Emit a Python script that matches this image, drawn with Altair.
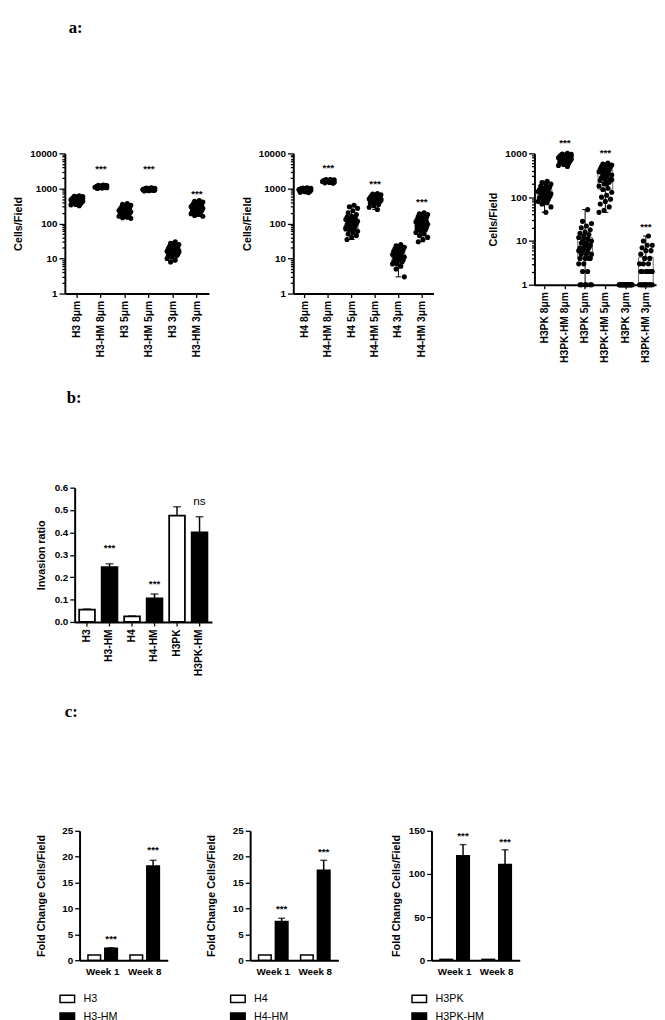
import altair as alt
import pandas as pd

FONT = "Liberation Sans"
SERIF = "Liberation Serif"

# ---------------- Panel a: cells per field (log scale) ----------------
a1_groups = ["H3 8μm", "H3-HM 8μm", "H3 5μm", "H3-HM 5μm", "H3 3μm", "H3-HM 3μm"]
a1_h3_8um = [620, 600, 590, 570, 550, 540, 520, 510, 500, 480, 470, 460, 450, 430, 420, 410, 400, 390, 380, 360, 350, 340, 320, 600, 520]
a1_h3hm_8um = [1250, 1220, 1200, 1180, 1160, 1150, 1130, 1120, 1100, 1090, 1080, 1060, 1050, 1040, 1020, 1000, 1200, 1150, 1100, 1080]
a1_h3_5um = [370, 350, 330, 310, 290, 280, 270, 260, 250, 240, 235, 230, 220, 215, 210, 200, 195, 190, 180, 175, 170, 160, 150, 145, 140, 250, 220, 200]
a1_h3hm_5um = [1050, 1030, 1010, 1000, 990, 980, 970, 960, 950, 940, 930, 920, 910, 900, 890, 880, 870, 860, 850, 1000, 960, 930]
a1_h3_3um = [30, 27, 25, 23, 22, 21, 20, 19, 18, 17, 16, 16, 15, 15, 14, 14, 13, 13, 12, 12, 11, 10, 9, 8, 17, 15, 13]
a1_h3hm_3um = [450, 430, 410, 390, 370, 350, 340, 330, 320, 310, 300, 290, 280, 270, 260, 250, 240, 230, 220, 210, 200, 190, 180, 170, 160, 300, 270, 240]
a1_sig_groups = ["H3-HM 8μm", "H3-HM 5μm", "H3-HM 3μm"]
a1_sig_y = [3500, 3500, 700]

a2_groups = ["H4 8μm", "H4-HM 8μm", "H4 5μm", "H4-HM 5μm", "H4 3μm", "H4-HM 3μm"]
a2_h4_8um = [1050, 1030, 1010, 1000, 990, 980, 970, 960, 950, 940, 930, 920, 900, 880, 860, 840, 820, 800, 780, 760, 950, 920]
a2_h4hm_8um = [1800, 1780, 1750, 1720, 1700, 1680, 1660, 1650, 1630, 1600, 1580, 1560, 1540, 1500, 1470, 1440, 1400, 1700, 1650, 1600]
a2_h4_5um = [330, 300, 270, 230, 200, 180, 160, 150, 140, 135, 130, 125, 120, 115, 110, 105, 100, 95, 90, 85, 80, 75, 70, 65, 60, 55, 50, 45, 40, 35, 110, 90, 70]
a2_h4hm_5um = [720, 690, 660, 640, 620, 600, 580, 560, 540, 520, 500, 490, 480, 460, 450, 440, 420, 400, 380, 350, 320, 290, 250, 550, 500, 470]
a2_h4_3um = [25, 23, 21, 20, 19, 18, 17, 16, 15, 14, 13, 12, 12, 11, 10, 10, 9, 9, 8, 8, 7, 7, 6, 5, 3, 12, 11]
a2_h4hm_3um = [200, 190, 180, 170, 160, 150, 140, 130, 125, 120, 110, 105, 100, 95, 90, 85, 80, 75, 70, 65, 60, 55, 50, 45, 40, 35, 30, 110, 95, 85]
a2_sig_groups = ["H4-HM 8μm", "H4-HM 5μm", "H4-HM 3μm"]
a2_sig_y = [3800, 1350, 400]

a3_groups = ["H3PK 8μm", "H3PK-HM 8μm", "H3PK 5μm", "H3PK-HM 5μm", "H3PK 3μm", "H3PK-HM 3μm"]
a3_h3pk_8um = [230, 215, 200, 190, 180, 170, 160, 150, 145, 140, 135, 130, 125, 120, 115, 110, 105, 100, 95, 90, 85, 80, 75, 70, 60, 45, 130, 115, 105]
a3_h3pkhm_8um = [1000, 970, 950, 930, 910, 890, 870, 850, 830, 810, 790, 770, 750, 730, 710, 690, 670, 650, 620, 590, 560, 530, 500, 900, 850, 800]
a3_h3pk_5um = [52, 28, 25, 22, 20, 18, 16, 15, 14, 13, 12, 11, 10, 10, 9, 9, 8, 8, 7, 7, 7, 6, 6, 6, 5, 5, 5, 4, 4, 4, 4, 3, 3, 2, 2, 1, 1, 1, 1, 1, 1, 8, 12]
a3_h3pkhm_5um = [600, 570, 540, 520, 500, 480, 460, 440, 420, 400, 380, 360, 340, 320, 300, 280, 260, 250, 240, 220, 200, 180, 160, 150, 130, 110, 100, 90, 80, 70, 60, 50, 45, 350, 300, 250, 200, 420]
a3_h3pk_3um = [1, 1, 1, 1, 1, 1, 1, 1, 1, 1, 1, 1, 1, 1, 1, 1, 1, 1, 1, 1, 1, 1]
a3_h3pkhm_3um = [13, 10, 8, 8, 7, 6, 6, 5, 4, 4, 3, 3, 3, 2, 2, 2, 2, 2, 2, 2, 1, 1, 1, 1, 1, 1, 1, 1, 1, 1, 1, 1]
a3_sig_groups = ["H3PK-HM 8μm", "H3PK-HM 5μm", "H3PK-HM 3μm"]
a3_sig_y = [1700, 1000, 21]

# ---------------- Panel b: invasion ratio ----------------
b_groups = ["H3", "H3-HM", "H4", "H4-HM", "H3PK", "H3PK-HM"]
b_values = [0.055, 0.245, 0.025, 0.105, 0.475, 0.400]
b_errors = [0.003, 0.015, 0.002, 0.020, 0.040, 0.070]
b_star_groups = ["H3-HM", "H4-HM"]
b_star_y = [0.33, 0.17]
b_ns_groups = ["H3PK-HM"]
b_ns_y = [0.54]

# ---------------- Panel c: fold change ----------------
c_weeks = ["Week 1", "Week 8"]
c1_groups = ["H3", "H3-HM"]
c1_ctrl = [1.0, 1.0]
c1_hm = [2.3, 18.2]
c1_hm_err = [0.1, 1.1]
c1_sig_y = [4.0, 21.2]

c2_groups = ["H4", "H4-HM"]
c2_ctrl = [1.0, 1.0]
c2_hm = [7.5, 17.4]
c2_hm_err = [0.6, 1.9]
c2_sig_y = [9.8, 20.8]

c3_groups = ["H3PK", "H3PK-HM"]
c3_ctrl = [1.0, 1.0]
c3_hm = [121.0, 111.0]
c3_hm_err = [13.0, 17.0]
c3_sig_y = [144.0, 137.5]


def y_axis(title, **kw):
    return alt.Axis(title=title, titleFont=FONT, titleFontSize=11, titleFontWeight="bold",
                    labelFont=FONT, labelFontSize=10, labelFontWeight="bold",
                    domainWidth=2, tickWidth=1.3, grid=False, **kw)


def dot_panel(groups, series, sig_groups, sig_y, width, height, top, spread, box_size, title=None):
    rows = [{"grp": g, "val": v} for g, vals in zip(groups, series) for v in vals]
    df = pd.DataFrame(rows)
    majors = [10 ** k for k in range(0, 5) if 10 ** k <= top]
    ticks = [m * 10 ** k for k in range(0, 5) for m in range(1, 10) if m * 10 ** k <= top]
    major_list = "[" + ",".join(str(v) for v in majors) + "]"
    test = f"indexof({major_list}, datum.value) >= 0"
    x = alt.X("grp:N", sort=groups,
              scale=alt.Scale(domain=groups, paddingInner=0, paddingOuter=0),
              axis=alt.Axis(title=None, labelAngle=270, labelFont=FONT, labelFontSize=10.5,
                            labelFontWeight="bold", tickSize=4, tickWidth=1.3, domainWidth=2,
                            labelPadding=3))
    yax = y_axis("Cells/Field", values=ticks, labelExpr=f"{test} ? format(datum.value, 'd') : ''",
                 tickSize={"condition": {"test": test, "value": 6}, "value": 3},
                 labelOverlap=False, labelPadding=2, titlePadding=6)
    y = alt.Y("val:Q", scale=alt.Scale(type="log", domain=[1, top], nice=False), axis=yax)
    bw = width / len(groups)
    box = alt.Chart(df).mark_boxplot(
        extent="min-max", size=box_size, color="white",
        box={"stroke": "#6e6e6e", "strokeWidth": 1},
        median={"color": "#6e6e6e"},
        rule={"color": "black", "strokeWidth": 1},
        ticks={"color": "black", "size": 6},
    ).encode(x=x, y=y)
    pts = alt.Chart(df).transform_window(
        rn="row_number()", groupby=["grp"]
    ).transform_calculate(
        jit="((datum.rn * 7) % 11) / 10 - 0.5"
    ).mark_circle(size=27, color="black", opacity=1).encode(
        x=x, y=y,
        xOffset=alt.XOffset("jit:Q", scale=alt.Scale(domain=[-0.5, 0.5], range=[bw / 2 - spread, bw / 2 + spread])),
    )
    sdf = pd.DataFrame({"grp": sig_groups, "val": sig_y, "label": ["***"] * len(sig_groups)})
    sig = alt.Chart(sdf).mark_text(font=FONT, fontSize=10, fontWeight="bold", baseline="middle",
                                   color="black").encode(x=x, y=y, text="label:N")
    ch = alt.layer(box, pts, sig).properties(width=width, height=height)
    if title is not None:
        ch = ch.properties(title=title)
    return ch


def letter(text, offset, dx):
    return alt.TitleParams(text=text, anchor="start", frame="group", font=SERIF, fontSize=17,
                           fontWeight="bold", baseline="alphabetic", offset=offset, dx=dx,
                           color="black")


a1 = dot_panel(a1_groups, [a1_h3_8um, a1_h3hm_8um, a1_h3_5um, a1_h3hm_5um, a1_h3_3um, a1_h3hm_3um],
               a1_sig_groups, a1_sig_y, 147, 143, 10000, 6, 13, title=letter("a:", 101, 4))
a2 = dot_panel(a2_groups, [a2_h4_8um, a2_h4hm_8um, a2_h4_5um, a2_h4hm_5um, a2_h4_3um, a2_h4hm_3um],
               a2_sig_groups, a2_sig_y, 143, 143, 10000, 6, 13)
a3 = dot_panel(a3_groups, [a3_h3pk_8um, a3_h3pkhm_8um, a3_h3pk_5um, a3_h3pkhm_5um, a3_h3pk_3um, a3_h3pkhm_3um],
               a3_sig_groups, a3_sig_y, 124, 134, 1000, 6.5, 15)

# ---- panel b ----
bdf = pd.DataFrame({"grp": b_groups, "val": b_values, "err": b_errors})
bdf["top"] = bdf["val"] + bdf["err"]
bx = alt.X("grp:N", sort=b_groups, scale=alt.Scale(domain=b_groups, paddingInner=0.3, paddingOuter=0.2),
           axis=alt.Axis(title=None, labelAngle=270, labelFont=FONT, labelFontSize=10.5, labelFontWeight="bold",
                         tickSize=4, tickWidth=1.3, domainWidth=2, labelPadding=3))
bax = y_axis("Invasion ratio", values=[0, 0.1, 0.2, 0.3, 0.4, 0.5, 0.6], format=".1f", tickSize=5,
             labelPadding=2, titlePadding=8)
bscale = alt.Scale(domain=[0, 0.6], nice=False)
b_bars = alt.Chart(bdf).mark_bar(stroke="black", strokeWidth=1.8).encode(
    x=bx, y=alt.Y("val:Q", scale=bscale, axis=bax),
    color=alt.Color("grp:N", scale=alt.Scale(domain=b_groups, range=["white", "black", "white", "black", "white", "black"]), legend=None),
)
b_err = alt.Chart(bdf).mark_rule(color="black", strokeWidth=1.5).encode(
    x=bx, y=alt.Y("val:Q", scale=bscale, axis=bax), y2="top:Q")
b_cap = alt.Chart(bdf).mark_tick(color="black", thickness=1.5, size=8).encode(
    x=bx, y=alt.Y("top:Q", scale=bscale, axis=bax))
b_star_df = pd.DataFrame({"grp": b_star_groups, "y": b_star_y, "label": ["***"] * len(b_star_groups)})
b_star = alt.Chart(b_star_df).mark_text(font=FONT, fontSize=10, fontWeight="bold", baseline="middle",
                                        color="black").encode(
    x=bx, y=alt.Y("y:Q", scale=bscale, axis=bax), text="label:N")
b_ns_df = pd.DataFrame({"grp": b_ns_groups, "y": b_ns_y, "label": ["ns"] * len(b_ns_groups)})
b_ns = alt.Chart(b_ns_df).mark_text(font=FONT, fontSize=12, baseline="middle", color="black").encode(
    x=bx, y=alt.Y("y:Q", scale=bscale, axis=bax), text="label:N")
b_chart = alt.layer(b_bars, b_err, b_cap, b_star, b_ns).properties(width=140, height=137, title=letter("b:", 64, -8))


# ---- panel c ----
def week_panel(groups, ctrl, hm, hm_err, sig_y, ymax, yvals, title_pad, title=None):
    rows = []
    for i, w in enumerate(c_weeks):
        rows.append({"week": w, "slot": "ctrl", "grp": groups[0], "val": ctrl[i], "err": 0.0})
        rows.append({"week": w, "slot": "hm", "grp": groups[1], "val": hm[i], "err": hm_err[i]})
    df = pd.DataFrame(rows)
    df["top"] = df["val"] + df["err"]
    x = alt.X("week:N", sort=c_weeks, scale=alt.Scale(domain=c_weeks, paddingInner=0.3, paddingOuter=0.2),
              axis=alt.Axis(title=None, labelAngle=0, ticks=False, labelFont=FONT, labelFontSize=10,
                            labelFontWeight="bold", domainWidth=2, labelPadding=7))
    xo = alt.XOffset("slot:N", sort=["ctrl", "hm"],
                     scale=alt.Scale(domain=["ctrl", "hm"], paddingInner=0.25, paddingOuter=0))
    yax = y_axis("Fold Change Cells/Field", values=yvals, tickSize=5, labelPadding=2, titlePadding=title_pad)
    ysc = alt.Scale(domain=[0, ymax], nice=False)
    bars = alt.Chart(df).mark_bar(stroke="black", strokeWidth=1.5).encode(
        x=x, xOffset=xo, y=alt.Y("val:Q", scale=ysc, axis=yax),
        color=alt.Color("grp:N", sort=groups, scale=alt.Scale(domain=groups, range=["white", "black"]),
                        legend=alt.Legend(orient="none", legendX=-21, legendY=163, title=None,
                                          direction="vertical",
                                          symbolType="M-1,-0.5H1V0.5H-1Z", symbolSize=220,
                                          symbolStrokeColor="black", symbolStrokeWidth=1.5,
                                          labelFont=FONT, labelFontSize=11, labelColor="black",
                                          labelOffset=8, rowPadding=2, padding=0)),
    )
    err = alt.Chart(df).transform_filter("datum.err > 0").mark_rule(color="black", strokeWidth=1.5).encode(
        x=x, xOffset=xo, y=alt.Y("val:Q", scale=ysc, axis=yax), y2="top:Q")
    cap = alt.Chart(df).transform_filter("datum.err > 0").mark_tick(color="black", thickness=1.5, size=7).encode(
        x=x, xOffset=xo, y=alt.Y("top:Q", scale=ysc, axis=yax))
    sdf = pd.DataFrame({"week": c_weeks, "slot": ["hm", "hm"], "y": sig_y, "label": ["***", "***"]})
    sig = alt.Chart(sdf).mark_text(font=FONT, fontSize=10, fontWeight="bold", baseline="middle",
                                   color="black").encode(
        x=x, xOffset=xo, y=alt.Y("y:Q", scale=ysc, axis=yax), text="label:N")
    ch = alt.layer(bars, err, cap, sig).properties(width=90, height=132)
    if title is not None:
        ch = ch.properties(title=title)
    return ch


c1 = week_panel(c1_groups, c1_ctrl, c1_hm, c1_hm_err, c1_sig_y, 25, [0, 5, 10, 15, 20, 25], 16, title=letter("c:", 94, -15))
c2 = week_panel(c2_groups, c2_ctrl, c2_hm, c2_hm_err, c2_sig_y, 25, [0, 5, 10, 15, 20, 25], 16)
c3 = week_panel(c3_groups, c3_ctrl, c3_hm, c3_hm_err, c3_sig_y, 150, [0, 50, 100, 150], 7)


def spacer(w):
    return alt.Chart(pd.DataFrame({"s": [0]})).mark_point(opacity=0, size=1).encode(
        x=alt.value(0), y=alt.value(0)).properties(width=w, height=1)


row_a = alt.hconcat(spacer(1), a1, spacer(29), a2, spacer(52), a3, spacing=0).resolve_scale(
    xOffset="independent", color="independent")
row_b = alt.hconcat(spacer(24), b_chart, spacing=0).resolve_scale(
    xOffset="independent", color="independent")
row_c = alt.hconcat(spacer(24), c1, spacer(35), c2, spacer(49), c3, spacing=0).resolve_scale(
    xOffset="independent", color="independent")

chart = alt.vconcat(row_a, row_b, row_c, spacing=26).resolve_scale(
    xOffset="independent", color="independent"
).properties(
    padding={"left": 1, "top": 0, "right": 0, "bottom": 0}
).configure_view(
    stroke="transparent"
).configure_axis(
    domainColor="black", tickColor="black", labelColor="black", titleColor="black"
)

chart.save("out.html", embed_options={"renderer": "svg", "actions": False})
